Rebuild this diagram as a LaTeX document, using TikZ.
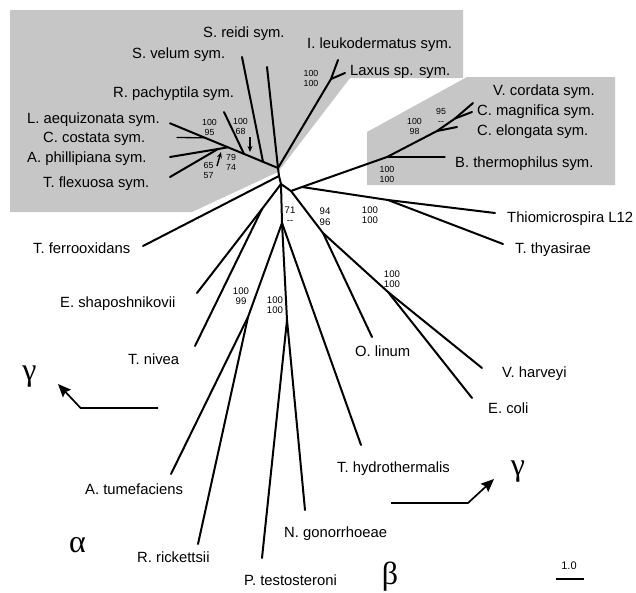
\documentclass[tikz,border=0pt]{standalone}
\usepackage{fontspec}
\setmainfont{Liberation Sans}
\newfontfamily\grk{Liberation Serif}
\usetikzlibrary{arrows.meta}
\definecolor{shadegray}{RGB}{198,198,198}
\begin{document}
\begin{tikzpicture}[x=1pt,y=-1pt,
  br/.style={line width=2pt, line cap=round, line join=round},
  thinbr/.style={line width=1.3pt, line cap=round},
  gbox/.style={fill=shadegray},
  lab/.style={anchor=base west, inner sep=0pt, font=\fontsize{14.8}{16}\selectfont},
  bsS/.style={inner sep=0pt, align=center, font=\fontsize{8.8}{10}\selectfont},
  bsL/.style={inner sep=0pt, align=center, font=\fontsize{9.6}{10.6}\selectfont},
  grkl/.style={anchor=base, inner sep=0pt, font=\grk\fontsize{32}{32}\selectfont},
  ptr/.style={line width=1.4pt, -{Stealth[length=6pt,width=5pt]}},
  bigptr/.style={line width=1.7pt, line join=miter, -{Stealth[length=13pt,width=11pt,inset=2pt]}},
]
\useasboundingbox (0,0) rectangle (636,592);
\fill[white] (0,0) rectangle (636,592);
% shaded groups
\fill[gbox] (10,10) -- (463,10) -- (463,78) -- (350,78) -- (278,172) -- (192,212) -- (10,212) -- cycle;
\fill[gbox] (467,77) -- (615,77) -- (615,185) -- (367,185) -- (367,132) -- cycle;

% internal nodes
\coordinate (S) at (278,168);
\coordinate (T0) at (279,176);
\coordinate (R) at (281,184);
\coordinate (X) at (291,191);
\coordinate (D) at (302,187);
\coordinate (F) at (387,157);
\coordinate (G) at (437,131);
\coordinate (H) at (455,118.5);
\coordinate (E) at (388,200);
\coordinate (P) at (323,233);
\coordinate (Q) at (388,292);
\coordinate (B) at (262,209);
\coordinate (C) at (282,223);
\coordinate (M) at (248,317);
\coordinate (N) at (287,320);
\coordinate (J) at (331,79);
\coordinate (K1) at (263,161.8);
\coordinate (K2) at (244,153.9);
\coordinate (K3) at (228,147.3);
\coordinate (K4) at (205,137.8);
\coordinate (L) at (218,149);
% leaf tips
\coordinate (tLaq) at (170,123.3);
\coordinate (tCcos) at (177,137.5);
\coordinate (tAphi) at (170,157);
\coordinate (tTflex) at (170,177);
\coordinate (tRpac) at (224,112);
\coordinate (tSvel) at (242,57);
\coordinate (tSrei) at (267,67);
\coordinate (tIleu) at (338,60);
\coordinate (tLax) at (345,73);
\coordinate (tVcor) at (473,103);
\coordinate (tCmag) at (472,112);
\coordinate (tCelo) at (457,127);
\coordinate (tBthe) at (445,157);
\coordinate (tThio) at (495,213);
\coordinate (tTthy) at (503,244);
\coordinate (tTfer) at (143,246);
\coordinate (tEsha) at (197,293);
\coordinate (tTniv) at (195,346);
\coordinate (tOlin) at (372,337);
\coordinate (tVhar) at (482,368);
\coordinate (tEcol) at (472,398);
\coordinate (tThyd) at (361,445);
\coordinate (tAtum) at (171,474);
\coordinate (tNgon) at (305,510);
\coordinate (tRric) at (198,544);
\coordinate (tPtes) at (262,558);

% branches
\draw[br] (tLaq) -- (K4) -- (K3) -- (K2) -- (K1) -- (S);
\draw[thinbr] (tCcos) -- (K4);
\draw[br] (tAphi) -- (L) -- (K3);
\draw[br] (tTflex) -- (L);
\draw[br] (tRpac) -- (K2);
\draw[br] (tSvel) -- (K1);
\draw[br] (tSrei) -- (S);
\draw[br] (S) -- (J) -- (tIleu);
\draw[br] (J) -- (tLax);
\draw[br] (S) -- (T0) -- (R);
\draw[br] (T0) -- (tTfer);
\draw[br] (R) -- (B) -- (tEsha);
\draw[br] (B) -- (tTniv);
\draw[br] (R) -- (C) -- (M) -- (tAtum);
\draw[br] (M) -- (tRric);
\draw[br] (C) -- (N) -- (tPtes);
\draw[br] (N) -- (tNgon);
\draw[br] (C) -- (tThyd);
\draw[br] (R) -- (X) -- (D) -- (F) -- (G) -- (H) -- (tVcor);
\draw[br] (H) -- (tCmag);
\draw[br] (G) -- (tCelo);
\draw[thinbr] (F) -- (tBthe);
\draw[br] (D) -- (E) -- (tThio);
\draw[br] (E) -- (tTthy);
\draw[br] (X) -- (P) -- (Q) -- (tVhar);
\draw[br] (Q) -- (tEcol);
\draw[br] (P) -- (tOlin);

% small pointer arrows
\coordinate (a1s) at (250,137);
\coordinate (a1e) at (250,152);
\draw[ptr] (a1s) -- (a1e);
\coordinate (a2s) at (217,166);
\coordinate (a2e) at (221,152);
\draw[ptr] (a2s) -- (a2e);

% taxon labels
\node[lab] (nSrei) at (203,37) {S. reidi sym.};
\node[lab] (nSvel) at (132,58) {S. velum sym.};
\node[lab] (nIleu) at (307,48) {I. leukodermatus sym.};
\node[lab] (nLax) at (350,75) {Laxus sp. sym.};
\node[lab] (nRpac) at (113,97) {R. pachyptila sym.};
\node[lab] (nLaq) at (27,123) {L. aequizonata sym.};
\node[lab] (nCcos) at (43,142) {C. costata sym.};
\node[lab] (nAphi) at (27,162) {A. phillipiana sym.};
\node[lab] (nTflex) at (43,187) {T. flexuosa sym.};
\node[lab] (nVcor) at (493,95) {V. cordata sym.};
\node[lab] (nCmag) at (477,115) {C. magnifica sym.};
\node[lab] (nCelo) at (477,135) {C. elongata sym.};
\node[lab] (nBthe) at (455,167) {B. thermophilus sym.};
\node[lab] (nThio) at (507,222) {Thiomicrospira L12};
\node[lab] (nTthy) at (515,253) {T. thyasirae};
\node[lab] (nTfer) at (33,253) {T. ferrooxidans};
\node[lab] (nEsha) at (60,307) {E. shaposhnikovii};
\node[lab] (nTniv) at (128,364) {T. nivea};
\node[lab] (nOlin) at (355,356) {O. linum};
\node[lab] (nVhar) at (502,377) {V. harveyi};
\node[lab] (nEcol) at (488,413) {E. coli};
\node[lab] (nThyd) at (337,472) {T. hydrothermalis};
\node[lab] (nAtum) at (85,494) {A. tumefaciens};
\node[lab] (nNgon) at (284,537) {N. gonorrhoeae};
\node[lab] (nRric) at (137,562) {R. rickettsii};
\node[lab] (nPtes) at (244,585) {P. testosteroni};

% bootstrap values
\node[bsS] (b1) at (311,78) {100\\100};
\node[bsS] (b2) at (240.5,126.5) {100\\68};
\node[bsS] (b3) at (209.5,127.5) {100\\95};
\node[bsS] (b4) at (231,162.5) {79\\74};
\node[bsS] (b5) at (208.5,170.5) {65\\57};
\node[bsS] (b6) at (414.5,126.5) {100\\98};
\node[bsS] (b7) at (441,116) {95\\{-}{-}};
\node[bsS] (b8) at (387,174) {100\\100};
\node[bsL] (b9) at (290,215) {71\\{-}{-}};
\node[bsL] (b10) at (325,216.7) {94\\96};
\node[bsL] (b11) at (370,215) {100\\100};
\node[bsL] (b12) at (392,279) {100\\100};
\node[bsL] (b13) at (241,296) {100\\99};
\node[bsL] (b14) at (275,305) {100\\100};

% greek group letters and arrows
\node[grkl] (g1) at (29.5,380) {γ};
\node[grkl] (g2) at (518,475) {γ};
\node[grkl] (al) at (77.5,552) {α};
\node[grkl] (be) at (390,584) {β};
\coordinate (la0) at (158,408);
\coordinate (la1) at (80.6,408);
\coordinate (la2) at (58,384);
\draw[bigptr] (la0) -- (la1) -- (la2);
\coordinate (ra0) at (391,503);
\coordinate (ra1) at (468,503);
\coordinate (ra2) at (494,479);
\draw[bigptr] (ra0) -- (ra1) -- (ra2);

% scale bar
\coordinate (sb0) at (556,578.7);
\coordinate (sb1) at (584,578.7);
\draw[line width=1.6pt] (sb0) -- (sb1);
\node[inner sep=0pt, font=\fontsize{11}{12}\selectfont] (sbl) at (569,566) {1.0};
\end{tikzpicture}
\end{document}
